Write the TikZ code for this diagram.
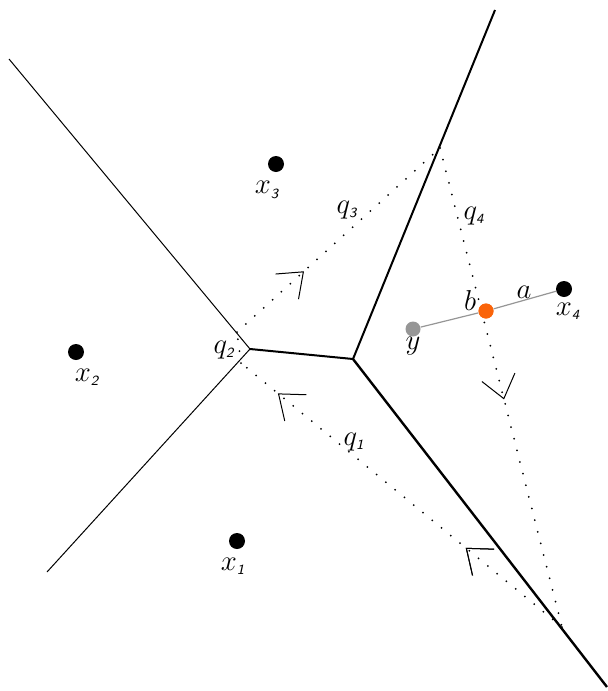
\documentclass[tikz,border=0pt]{standalone}
\usepackage{amsmath}
\usepackage{tikz}
\usetikzlibrary{arrows.meta}
\usetikzlibrary{decorations.markings}

\definecolor{ptorange}{RGB}{250,100,10}
\definecolor{ptgray}{RGB}{150,150,150}
\newcommand{\idx}[1]{{\scriptscriptstyle\textsf{\slshape #1}}}

\tikzset{
    site/.style={circle,fill=black,inner sep=0pt,minimum size=8pt},
    lbl/.style={font=\Large,inner sep=0pt},
    thinedge/.style={line width=0.5pt},
    thickedge/.style={line width=1pt},
    ray/.style={line width=1pt,line cap=round,dash pattern=on 0pt off 6pt},
    barb/.style={postaction={decorate},decoration={markings,
        mark=at position #1 with {\arrow{Straight Barb[length=11pt,width=17pt,line width=0.5pt]}}}}
}

\begin{document}
\begin{tikzpicture}[x=0.5pt,y=-0.5pt]
    \useasboundingbox (0,0) rectangle (608,691);

    % voronoi vertices and ends
    \coordinate (v1) at (250,349);
    \coordinate (v2) at (353,359);
    \coordinate (e1) at (9,59);
    \coordinate (e2) at (47,572);
    \coordinate (e3) at (495,10);
    \coordinate (e4) at (607,687);

    \draw[thinedge] (e1) -- (v1) -- (e2);
    \draw[thickedge] (v1) -- (v2);
    \draw[thickedge] (v2) -- (e3);
    \draw[thickedge,line width=1.2pt] (v2) -- (e4);

    % points where the path meets the edges
    \coordinate (p1) at (562,627);
    \coordinate (p2a) at (241,363);
    \coordinate (p2b) at (237,332);
    \coordinate (p3) at (440,148);

    \draw[ray,barb=0.3,postaction={barb=0.885}] (p1) -- (p2a);
    \draw[ray] (p2a) -- (p2b);
    \draw[ray,barb=0.33] (p2b) -- (p3);
    \draw[ray,barb=0.525] (p3) -- (p1);

    % sites
    \node[site] (x1) at (237,541) {};
    \node[site] (x2) at (76,352) {};
    \node[site] (x3) at (276,164) {};
    \node[site] (x4) at (564,289) {};
    \node[site,fill=ptgray,minimum size=7.5pt] (y) at (413,329) {};
    \node[site,fill=ptorange,minimum size=7.5pt] (b) at (486,311) {};
    \draw[ptgray,line width=0.6pt] (y) -- (b) -- (x4);
    \node[site,fill=ptorange,minimum size=7.5pt] at (b) {};

    \node[lbl] (lx1) at (233,566) {$x_{\idx{1}}$};
    \node[lbl] (lx2) at (87,377) {$x_{\idx{2}}$};
    \node[lbl] (lx3) at (267,190) {$x_{\idx{3}}$};
    \node[lbl] (lx4) at (568,311) {$x_{\idx{4}}$};
    \node[lbl] (ly) at (413,346) {$y$};
    \node[lbl] (lb) at (470,300) {$b$};
    \node[lbl] (la) at (524,292) {$a$};

    \node[lbl] (lq1) at (354,442) {$q_{\idx{1}}$};
    \node[lbl] (lq2) at (224,350) {$q_{\idx{2}}$};
    \node[lbl] (lq3) at (347,210) {$q_{\idx{3}}$};
    \node[lbl] (lq4) at (474,216) {$q_{\idx{4}}$};
\end{tikzpicture}
\end{document}
